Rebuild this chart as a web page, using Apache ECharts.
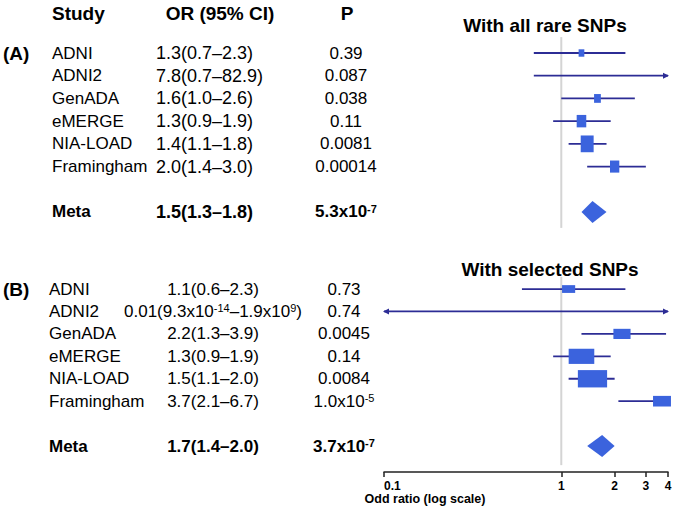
<!DOCTYPE html>
<html><head><meta charset="utf-8">
<script src="https://cdn.jsdelivr.net/npm/echarts@6/dist/echarts.min.js"></script>
<style>html,body{margin:0;padding:0;background:#fff}#c{width:678px;height:511px}</style>
</head><body><div id="c"></div>
<script>
// ---------------- data ----------------
const studies = ['ADNI', 'ADNI2', 'GenADA', 'eMERGE', 'NIA-LOAD', 'Framingham'];
const metaLabel = 'Meta';
const orA = [1.3, 7.8, 1.6, 1.3, 1.4, 2.0];
const lowA = [0.7, 0.7, 1.0, 0.9, 1.1, 1.4];
const highA = [2.3, 82.9, 2.6, 1.9, 1.8, 3.0];
const pA = [0.39, 0.087, 0.038, 0.11, 0.0081, 0.00014];
const weightA = [6.5, 0, 7.7, 10.9, 14.7, 10.6];
const metaA = [1.5, 1.3, 1.8, 5.3e-7];           // OR, low, high, P
const orB = [1.1, 0.01, 2.2, 1.3, 1.5, 3.7];
const lowB = [0.6, 9.3e-14, 1.3, 0.9, 1.1, 2.1];
const highB = [2.3, 1.9e9, 3.9, 1.9, 2.0, 6.7];
const pB = [0.73, 0.74, 0.0045, 0.14, 0.0084, 1.0e-5];
const weightB = [10.1, 0, 13.2, 19.7, 22.5, 13.8];
const metaB = [1.7, 1.4, 2.0, 3.7e-7];
const refOR = 1;
const xTicks = [0.1, 1, 2, 3, 4];
const headers = ['Study', 'OR (95% CI)', 'P'];
const panelLabels = ['(A)', '(B)'];
const panelTitles = ['With all rare SNPs', 'With selected SNPs'];
const axisTitle = 'Odd ratio (log scale)';

// ---------------- helpers ----------------
const L = Math.log10;
const FONT = '"Liberation Sans", Arial, Helvetica, sans-serif';
const BOX = '#3b63dd', LINE = '#2c2c95', REF = '#d4d4d4';
const XMIN = L(xTicks[0]), XMAX = L(xTicks[xTicks.length - 1]);
const META_ROW = studies.length + 1;

function sci(v, key) {
  let e = Math.floor(L(v) + 1e-9);
  let m = v / Math.pow(10, e);
  if (m >= 9.95) { m /= 10; e += 1; }
  return m.toFixed(1) + 'x10{' + key + '|' + (e < 0 ? '-' : '') + Math.abs(e) + '}';
}
function fmtOR(v, key) {
  if (v >= 0.1 && v < 1e4) return v.toFixed(1);
  if (v >= 0.001 && v < 0.1) return String(v);
  return sci(v, key);
}
function fmtP(v, key) { return v >= 1e-4 ? String(v) : sci(v, key); }

const rich = {
  sup: { fontSize: 11, fontFamily: FONT, verticalAlign: 'top', lineHeight: 10, color: '#000' },
  supb: { fontSize: 11, fontWeight: 'bold', fontFamily: FONT, verticalAlign: 'top', lineHeight: 10, color: '#000' }
};

function panelData(or, lo, hi, w, meta) {
  const d = studies.map((s, i) => [i, or[i], lo[i], hi[i], w[i], 0]);
  d.push([META_ROW, meta[0], meta[1], meta[2], 0, 1]);
  return d;
}
function tableData(or, lo, hi, p, meta) {
  const d = studies.map((s, i) => ({ value: [i, 0], name: s,
    orText: fmtOR(or[i], 'sup') + '(' + fmtOR(lo[i], 'sup') + '–' + fmtOR(hi[i], 'sup') + ')',
    pText: fmtP(p[i], 'sup'), bold: false }));
  d.push({ value: [META_ROW, 0], name: metaLabel,
    orText: fmtOR(meta[0], 'supb') + '(' + fmtOR(meta[1], 'supb') + '–' + fmtOR(meta[2], 'supb') + ')',
    pText: fmtP(meta[3], 'supb'), bold: true });
  return d;
}

function forestRender(params, api) {
  const row = api.value(0), or = api.value(1), lo = api.value(2), hi = api.value(3);
  const w = api.value(4), isMeta = api.value(5);
  const clampX = v => api.coord([Math.min(XMAX, Math.max(XMIN, L(v))), row])[0];
  const y = api.coord([0, row])[1];
  const ch = [];
  const aspect = params.seriesIndex === 1 ? [0.88, 1.14] : [1.3, 0.77];
  if (isMeta) {
    const h = 22;
    ch.push({ type: 'polygon', shape: { points: [[clampX(lo), y], [clampX(or), y - h / 2], [clampX(hi), y], [clampX(or), y + h / 2]] },
      style: { fill: BOX } });
    return { type: 'group', children: ch };
  }
  const x1 = clampX(lo), x2 = clampX(hi);
  ch.push({ type: 'line', shape: { x1: x1, y1: y, x2: x2, y2: y }, style: { stroke: LINE, lineWidth: 1.8 } });
  if (L(hi) > XMAX) ch.push({ type: 'polygon', shape: { points: [[x2 + 1, y], [x2 - 5, y - 3], [x2 - 5, y + 3]] }, style: { fill: LINE } });
  if (L(lo) < XMIN) ch.push({ type: 'polygon', shape: { points: [[x1 - 1, y], [x1 + 5, y - 3], [x1 + 5, y + 3]] }, style: { fill: LINE } });
  const lor = L(or);
  if (w > 0 && lor >= XMIN && lor <= XMAX) {
    const bw = w * aspect[0], bh = w * aspect[1];
    const cx = api.coord([lor, row])[0];
    ch.push({ type: 'rect', shape: { x: cx - bw / 2, y: y - bh / 2, width: bw, height: bh }, style: { fill: BOX } });
  }
  return { type: 'group', children: ch };
}

function makeTableRender(panel) {
  const nameX = panel === 0 ? 52 : 49;
  const orX = panel === 0 ? 156 : 213;
  const orAlign = panel === 0 ? 'left' : 'center';
  const orSize = panel === 0 ? 18 : 17;
  const pX = panel === 0 ? 346 : 344;
  return function (params, api) {
    const item = (panel === 0 ? tabA : tabB)[params.dataIndex];
    const y = api.coord([0, api.value(0)])[1];
    const base = { fill: '#000', fontSize: 17, fontFamily: FONT, fontWeight: item.bold ? 'bold' : 'normal', verticalAlign: 'middle', rich: rich };
    const ch = [
      { type: 'text', style: Object.assign({}, base, { text: item.name, x: nameX, y: y, align: 'left' }) },
      { type: 'text', style: Object.assign({}, base, { text: item.orText, x: orX, y: y, align: orAlign, fontSize: orSize }) },
      { type: 'text', style: Object.assign({}, base, { text: item.pText, x: pX, y: y, align: 'center' }) }
    ];
    if (params.dataIndex === 0) {
      ch.push({ type: 'text', style: { text: panelLabels[panel], x: 3, y: y, align: 'left', verticalAlign: 'middle', fontSize: 19, fontWeight: 'bold', fontFamily: FONT, fill: '#000' } });
    }
    return { type: 'group', children: ch };
  };
}

function refRender(params, api) {
  const top = api.value(1), bot = api.value(2);
  const a = api.coord([L(api.value(0)), top]), b = api.coord([L(api.value(0)), bot]);
  return { type: 'line', shape: { x1: a[0], y1: a[1], x2: b[0], y2: b[1] }, style: { stroke: REF, lineWidth: 2 } };
}

const tabA = tableData(orA, lowA, highA, pA, metaA);
const tabB = tableData(orB, lowB, highB, pB, metaB);

const chart = echarts.init(document.getElementById('c'), null, { renderer: 'svg' });
const hiddenY = { type: 'value', inverse: true, min: -1, max: 8, show: false };
chart.setOption({
  animation: false,
  backgroundColor: '#fff',
  grid: [
    { left: 384, width: 284, top: 30.3, height: 204.4 },
    { left: 384, width: 284, top: 266.6, height: 201.9 }
  ],
  xAxis: [
    { gridIndex: 0, type: 'value', min: XMIN, max: XMAX, show: false },
    { gridIndex: 1, type: 'value', min: XMIN, max: XMAX, position: 'bottom', offset: 3.5,
      axisLine: { show: true, onZero: false, lineStyle: { color: '#222', width: 1.5 } },
      axisTick: { show: true, length: 5, customValues: xTicks.map(L), lineStyle: { color: '#222', width: 1.5 } },
      axisLabel: { customValues: xTicks.map(L), color: '#000', fontWeight: 'bold', fontSize: 12, fontFamily: FONT, margin: 8,
        alignMinLabel: 'left', formatter: v => String(Number(Math.pow(10, v).toPrecision(3))) },
      splitLine: { show: false } }
  ],
  yAxis: [Object.assign({ gridIndex: 0 }, hiddenY), Object.assign({ gridIndex: 1 }, hiddenY)],
  series: [
    { type: 'custom', xAxisIndex: 0, yAxisIndex: 0, renderItem: refRender, data: [[refOR, -0.7, 7.7]], encode: { x: 0, y: 1 }, clip: false, z: 1 },
    { type: 'custom', xAxisIndex: 0, yAxisIndex: 0, renderItem: forestRender, data: panelData(orA, lowA, highA, weightA, metaA), encode: { x: 1, y: 0 }, clip: false, z: 2 },
    { type: 'custom', xAxisIndex: 0, yAxisIndex: 0, renderItem: makeTableRender(0), data: tabA, encode: { y: 0 }, clip: false, z: 3 },
    { type: 'custom', xAxisIndex: 1, yAxisIndex: 1, renderItem: refRender, data: [[refOR, -0.55, 7.85]], encode: { x: 0, y: 1 }, clip: false, z: 1 },
    { type: 'custom', xAxisIndex: 1, yAxisIndex: 1, renderItem: forestRender, data: panelData(orB, lowB, highB, weightB, metaB), encode: { x: 1, y: 0 }, clip: false, z: 2 },
    { type: 'custom', xAxisIndex: 1, yAxisIndex: 1, renderItem: makeTableRender(1), data: tabB, encode: { y: 0 }, clip: false, z: 3 }
  ],
  graphic: [
    { type: 'text', x: 52, y: 13, style: { text: headers[0], fontSize: 19, fontWeight: 'bold', fontFamily: FONT, fill: '#000', align: 'left', verticalAlign: 'middle' } },
    { type: 'text', x: 220, y: 13, style: { text: headers[1], fontSize: 19, fontWeight: 'bold', fontFamily: FONT, fill: '#000', align: 'center', verticalAlign: 'middle' } },
    { type: 'text', x: 347, y: 13, style: { text: headers[2], fontSize: 19, fontWeight: 'bold', fontFamily: FONT, fill: '#000', align: 'center', verticalAlign: 'middle' } },
    { type: 'text', x: 545, y: 25, style: { text: panelTitles[0], fontSize: 19, fontWeight: 'bold', fontFamily: FONT, fill: '#000', align: 'center', verticalAlign: 'middle' } },
    { type: 'text', x: 550, y: 269, style: { text: panelTitles[1], fontSize: 19, fontWeight: 'bold', fontFamily: FONT, fill: '#000', align: 'center', verticalAlign: 'middle' } },
    { type: 'text', x: 425, y: 499, style: { text: axisTitle, fontSize: 12.5, fontWeight: 'bold', fontFamily: FONT, fill: '#000', align: 'center', verticalAlign: 'middle' } }
  ]
});
</script></body></html>
